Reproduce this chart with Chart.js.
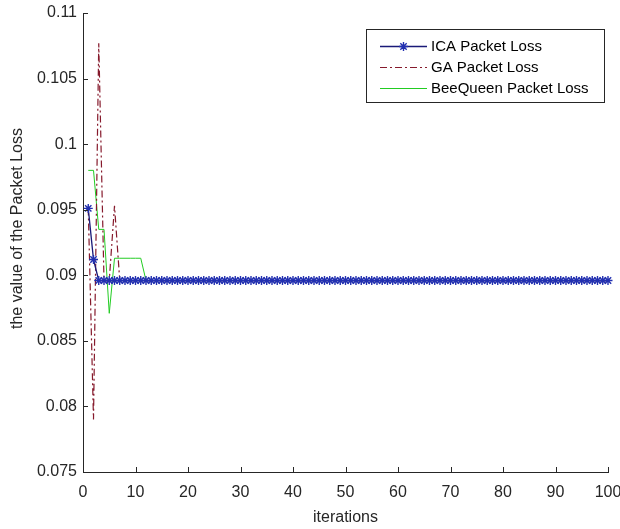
<!DOCTYPE html>
<html>
<head>
<meta charset="utf-8">
<script src="https://cdn.jsdelivr.net/npm/chart.js@4.4.1/dist/chart.umd.min.js"></script>
<style>
  html, body { margin: 0; padding: 0; background: #ffffff; }
  #wrap { width: 620px; height: 529px; position: relative; }
</style>
</head>
<body>
<div id="wrap"><canvas id="plc"></canvas></div>
<script>
// Iteration numbers (x values)
const iterations = [
  1, 2, 3, 4, 5, 6, 7, 8, 9, 10,
  11, 12, 13, 14, 15, 16, 17, 18, 19, 20,
  21, 22, 23, 24, 25, 26, 27, 28, 29, 30,
  31, 32, 33, 34, 35, 36, 37, 38, 39, 40,
  41, 42, 43, 44, 45, 46, 47, 48, 49, 50,
  51, 52, 53, 54, 55, 56, 57, 58, 59, 60,
  61, 62, 63, 64, 65, 66, 67, 68, 69, 70,
  71, 72, 73, 74, 75, 76, 77, 78, 79, 80,
  81, 82, 83, 84, 85, 86, 87, 88, 89, 90,
  91, 92, 93, 94, 95, 96, 97, 98, 99, 100
];

// Packet loss per iteration, ICA
const icaLoss = [
  0.0951, 0.0912, 0.0896, 0.0896, 0.0896, 0.0896, 0.0896, 0.0896, 0.0896, 0.0896,
  0.0896, 0.0896, 0.0896, 0.0896, 0.0896, 0.0896, 0.0896, 0.0896, 0.0896, 0.0896,
  0.0896, 0.0896, 0.0896, 0.0896, 0.0896, 0.0896, 0.0896, 0.0896, 0.0896, 0.0896,
  0.0896, 0.0896, 0.0896, 0.0896, 0.0896, 0.0896, 0.0896, 0.0896, 0.0896, 0.0896,
  0.0896, 0.0896, 0.0896, 0.0896, 0.0896, 0.0896, 0.0896, 0.0896, 0.0896, 0.0896,
  0.0896, 0.0896, 0.0896, 0.0896, 0.0896, 0.0896, 0.0896, 0.0896, 0.0896, 0.0896,
  0.0896, 0.0896, 0.0896, 0.0896, 0.0896, 0.0896, 0.0896, 0.0896, 0.0896, 0.0896,
  0.0896, 0.0896, 0.0896, 0.0896, 0.0896, 0.0896, 0.0896, 0.0896, 0.0896, 0.0896,
  0.0896, 0.0896, 0.0896, 0.0896, 0.0896, 0.0896, 0.0896, 0.0896, 0.0896, 0.0896,
  0.0896, 0.0896, 0.0896, 0.0896, 0.0896, 0.0896, 0.0896, 0.0896, 0.0896, 0.0896
];

// Packet loss per iteration, GA
const gaLoss = [
  0.0951, 0.0790, 0.1077, 0.0896, 0.0896, 0.0953, 0.0896, 0.0896, 0.0896, 0.0896,
  0.0896, 0.0896, 0.0896, 0.0896, 0.0896, 0.0896, 0.0896, 0.0896, 0.0896, 0.0896,
  0.0896, 0.0896, 0.0896, 0.0896, 0.0896, 0.0896, 0.0896, 0.0896, 0.0896, 0.0896,
  0.0896, 0.0896, 0.0896, 0.0896, 0.0896, 0.0896, 0.0896, 0.0896, 0.0896, 0.0896,
  0.0896, 0.0896, 0.0896, 0.0896, 0.0896, 0.0896, 0.0896, 0.0896, 0.0896, 0.0896,
  0.0896, 0.0896, 0.0896, 0.0896, 0.0896, 0.0896, 0.0896, 0.0896, 0.0896, 0.0896,
  0.0896, 0.0896, 0.0896, 0.0896, 0.0896, 0.0896, 0.0896, 0.0896, 0.0896, 0.0896,
  0.0896, 0.0896, 0.0896, 0.0896, 0.0896, 0.0896, 0.0896, 0.0896, 0.0896, 0.0896,
  0.0896, 0.0896, 0.0896, 0.0896, 0.0896, 0.0896, 0.0896, 0.0896, 0.0896, 0.0896,
  0.0896, 0.0896, 0.0896, 0.0896, 0.0896, 0.0896, 0.0896, 0.0896, 0.0896, 0.0896
];

// Packet loss per iteration, BeeQueen
const beeLoss = [
  0.0980, 0.0980, 0.0935, 0.0935, 0.0871, 0.0913, 0.0913, 0.0913, 0.0913, 0.0913,
  0.0913, 0.0896, 0.0896, 0.0896, 0.0896, 0.0896, 0.0896, 0.0896, 0.0896, 0.0896,
  0.0896, 0.0896, 0.0896, 0.0896, 0.0896, 0.0896, 0.0896, 0.0896, 0.0896, 0.0896,
  0.0896, 0.0896, 0.0896, 0.0896, 0.0896, 0.0896, 0.0896, 0.0896, 0.0896, 0.0896,
  0.0896, 0.0896, 0.0896, 0.0896, 0.0896, 0.0896, 0.0896, 0.0896, 0.0896, 0.0896,
  0.0896, 0.0896, 0.0896, 0.0896, 0.0896, 0.0896, 0.0896, 0.0896, 0.0896, 0.0896,
  0.0896, 0.0896, 0.0896, 0.0896, 0.0896, 0.0896, 0.0896, 0.0896, 0.0896, 0.0896,
  0.0896, 0.0896, 0.0896, 0.0896, 0.0896, 0.0896, 0.0896, 0.0896, 0.0896, 0.0896,
  0.0896, 0.0896, 0.0896, 0.0896, 0.0896, 0.0896, 0.0896, 0.0896, 0.0896, 0.0896,
  0.0896, 0.0896, 0.0896, 0.0896, 0.0896, 0.0896, 0.0896, 0.0896, 0.0896, 0.0896
];

const seriesNames = ['ICA Packet Loss', 'GA Packet Loss', 'BeeQueen Packet Loss'];

// Axis ticks
const xTickValues = [0, 10, 20, 30, 40, 50, 60, 70, 80, 90, 100];
const yTickValues = [0.075, 0.08, 0.085, 0.09, 0.095, 0.1, 0.105, 0.11];
const yTickLabels = ['0.075', '0.08', '0.085', '0.09', '0.095', '0.1', '0.105', '0.11'];

const xTitle = 'iterations';
const yTitle = 'the value of the Packet Loss';

const FONT = '"Liberation Sans", Arial, sans-serif';
const AXIS_COLOR = '#262626';

function toPoints(values) {
  return iterations.map((it, i) => ({ x: it, y: values[i] }));
}

// Draws an eight-armed asterisk marker
function drawAsterisk(ctx, cx, cy, r, color, width) {
  ctx.save();
  ctx.strokeStyle = color;
  ctx.lineWidth = width;
  ctx.beginPath();
  ctx.moveTo(cx - r, cy); ctx.lineTo(cx + r, cy);
  ctx.moveTo(cx, cy - r); ctx.lineTo(cx, cy + r);
  const d = r * Math.SQRT1_2;
  ctx.moveTo(cx - d, cy - d); ctx.lineTo(cx + d, cy + d);
  ctx.moveTo(cx - d, cy + d); ctx.lineTo(cx + d, cy - d);
  ctx.stroke();
  ctx.restore();
}

// Inward tick marks on the left and bottom axes, plus the axis titles
const axisDecor = {
  id: 'axisDecor',
  afterDraw(chart) {
    const { ctx, chartArea: a, scales: { x, y } } = chart;
    const len = 5;
    ctx.save();
    ctx.strokeStyle = AXIS_COLOR;
    ctx.lineWidth = 1;
    ctx.beginPath();
    x.ticks.forEach(t => {
      const px = Math.round(x.getPixelForValue(t.value)) + 0.5;
      ctx.moveTo(px, a.bottom);
      ctx.lineTo(px, a.bottom - len);
    });
    y.ticks.forEach(t => {
      const py = Math.round(y.getPixelForValue(t.value)) + 0.5;
      ctx.moveTo(a.left, py);
      ctx.lineTo(a.left + len, py);
    });
    ctx.stroke();

    ctx.fillStyle = AXIS_COLOR;
    ctx.font = '16px ' + FONT;
    ctx.textAlign = 'center';
    ctx.textBaseline = 'middle';
    ctx.fillText(xTitle, (a.left + a.right) / 2, a.bottom + 46);
    ctx.translate(18, (a.top + a.bottom) / 2 - 14);
    ctx.rotate(-Math.PI / 2);
    ctx.fillText(yTitle, 0, 0);
    ctx.restore();
  }
};

// Boxed legend in the upper right of the plot
const boxLegend = {
  id: 'boxLegend',
  afterDraw(chart) {
    const { ctx, chartArea: a } = chart;
    const bx = a.right - 242, by = a.top + 16, bw = 238, bh = 73;
    ctx.save();
    ctx.fillStyle = '#ffffff';
    ctx.fillRect(bx, by, bw, bh);
    ctx.strokeStyle = AXIS_COLOR;
    ctx.lineWidth = 1;
    ctx.strokeRect(bx + 0.5, by + 0.5, bw, bh);
    ctx.font = '15px ' + FONT;
    ctx.textBaseline = 'middle';
    ctx.textAlign = 'left';
    chart.data.datasets.forEach((ds, i) => {
      const cy = by + 17 + i * 21 + 0.5;
      const x0 = bx + 14, x1 = bx + 61;
      ctx.save();
      ctx.strokeStyle = ds.borderColor;
      ctx.lineWidth = ds.borderWidth;
      ctx.setLineDash(ds.borderDash || []);
      ctx.beginPath();
      ctx.moveTo(x0, cy);
      ctx.lineTo(x1, cy);
      ctx.stroke();
      ctx.restore();
      if (ds.pointRadius > 0) {
        drawAsterisk(ctx, (x0 + x1) / 2, cy, ds.pointRadius, ds.pointBorderColor, ds.pointBorderWidth);
      }
      ctx.fillStyle = '#000000';
      ctx.fillText(ds.label, x1 + 4, cy);
    });
    ctx.restore();
  }
};

new Chart(document.getElementById('plc'), {
  type: 'line',
  data: {
    datasets: [
      {
        label: seriesNames[0],
        data: toPoints(icaLoss),
        borderColor: '#1a1a78',
        borderWidth: 1.3,
        pointStyle: 'star',
        pointRadius: 4.5,
        pointBorderWidth: 1.4,
        pointBorderColor: '#2230b0',
        pointBackgroundColor: '#2230b0',
        tension: 0,
        clip: false,
        order: 0
      },
      {
        label: seriesNames[1],
        data: toPoints(gaLoss),
        borderColor: '#861a2c',
        borderWidth: 1.2,
        borderDash: [7, 3, 2, 3],
        pointRadius: 0,
        tension: 0,
        order: 1
      },
      {
        label: seriesNames[2],
        data: toPoints(beeLoss),
        borderColor: '#22cc22',
        borderWidth: 1,
        pointRadius: 0,
        tension: 0,
        order: 2
      }
    ]
  },
  options: {
    responsive: true,
    maintainAspectRatio: false,
    animation: false,
    events: [],
    layout: { padding: { top: 13, right: 12, left: 0, bottom: 0 } },
    plugins: {
      legend: { display: false },
      tooltip: { enabled: false }
    },
    scales: {
      x: {
        type: 'linear',
        min: 0,
        max: 100,
        afterBuildTicks(scale) { scale.ticks = xTickValues.map(v => ({ value: v })); },
        afterFit(scale) {
          scale.height = 57;
          scale.paddingLeft = 0;
          scale.paddingRight = 0;
        },
        grid: { display: false, drawTicks: false },
        border: { display: true, color: AXIS_COLOR, width: 1 },
        ticks: {
          color: AXIS_COLOR,
          font: { family: FONT, size: 16 },
          padding: 11,
          maxRotation: 0,
          callback: v => String(v)
        }
      },
      y: {
        type: 'linear',
        min: 0.075,
        max: 0.11,
        afterBuildTicks(scale) { scale.ticks = yTickValues.map(v => ({ value: v })); },
        afterFit(scale) {
          scale.width = 83;
          scale.paddingTop = 0;
          scale.paddingBottom = 0;
        },
        grid: { display: false, drawTicks: false },
        border: { display: true, color: AXIS_COLOR, width: 1 },
        ticks: {
          color: AXIS_COLOR,
          font: { family: FONT, size: 16 },
          padding: 6,
          callback: (v, i) => yTickLabels[i]
        }
      }
    }
  },
  plugins: [axisDecor, boxLegend]
});
</script>
</body>
</html>
